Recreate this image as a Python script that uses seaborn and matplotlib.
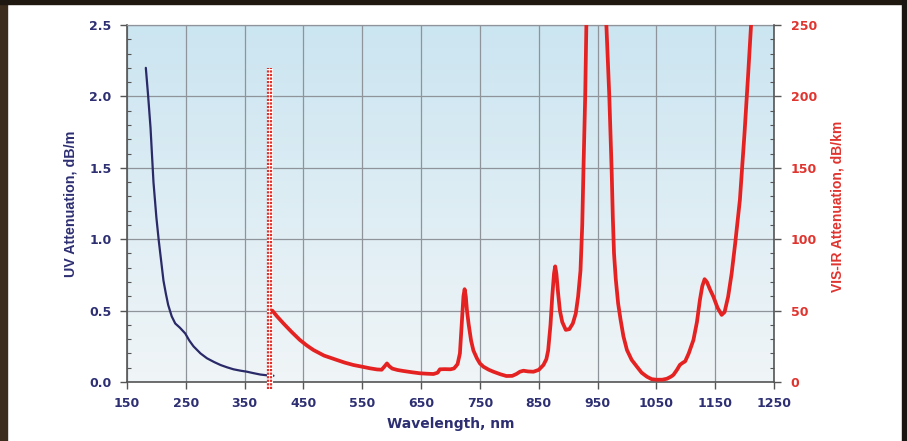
import numpy as np
import pandas as pd
import matplotlib
matplotlib.use("Agg")
import matplotlib.pyplot as plt
import seaborn as sns
from matplotlib.patches import Rectangle
from matplotlib.ticker import MultipleLocator, FormatStrFormatter

# ---------------- data ----------------
uv_nm = [182, 186, 190, 195, 200, 204, 208, 212, 216, 220, 226, 232, 240, 249,
         256, 263, 275, 286, 298, 309, 320, 331, 342, 354, 365, 377, 390, 399]
uv_att = [2.20, 2.00, 1.78, 1.40, 1.15, 0.99, 0.85, 0.71, 0.62, 0.54, 0.46, 0.41,
          0.38, 0.34, 0.29, 0.25, 0.20, 0.166, 0.14, 0.119, 0.103, 0.089, 0.080,
          0.072, 0.062, 0.052, 0.046, 0.044]

vis_nm = [397, 405, 416, 430, 444, 456, 467, 485, 507, 520, 535, 550, 563, 575,
          583, 588, 592, 596, 601, 610, 620, 635, 648, 660, 671, 678, 682, 690,
          700, 706, 712, 716, 719, 722, 724, 726, 728, 731, 735, 739, 745, 750,
          756, 765, 773, 785, 795, 805, 812, 818, 824, 832, 841, 850, 858, 863,
          866, 870, 873, 876, 878, 880, 883, 886, 890, 896, 902, 908, 913, 917,
          921, 924, 926, 929, 931, 934, 940, 948, 956, 962, 965, 970, 974, 976,
          978, 981, 985, 989, 994, 1000, 1008, 1017, 1025, 1034, 1042, 1050, 1060,
          1068, 1075, 1079, 1085, 1090, 1095, 1099, 1105, 1113, 1119, 1124, 1128,
          1132, 1136, 1141, 1147, 1154, 1161, 1166, 1172, 1178, 1184, 1192, 1200,
          1206, 1211, 1215]
vis_att = [50, 46, 41, 35, 29.4, 25.5, 22.4, 18.5, 15.4, 13.6, 11.9, 10.7, 9.6, 8.8,
           8.6, 11, 13, 11, 9.4, 8.4, 7.7, 6.8, 6.1, 5.8, 5.6, 6.5, 8.9, 9.0,
           8.9, 9.5, 12.5, 20, 40, 60, 65, 60, 50, 40, 29, 22, 16.5, 13,
           10.7, 8.6, 7.2, 5.4, 4.2, 4.3, 5.6, 7.2, 7.9, 7.4, 7.2, 8.5, 11.9, 16,
           22, 40, 60, 76, 81, 76, 62, 50, 42, 36.5, 37, 41, 48, 60,
           78, 110, 148, 200, 250, 320, 400, 430, 400, 320, 250, 200, 148, 115,
           90, 72, 55, 44, 32, 22.4, 15.5, 10.7, 6.5, 3.7, 2.0, 1.6, 1.6,
           2.3, 3.8, 5, 8.5, 12, 13.5, 14.5, 20, 29.4, 42, 57.4, 67,
           72, 70, 65, 59.7, 52, 47, 49, 59.7, 76, 97, 127.5, 175,
           215, 250, 280]

marker_nm = [389.5, 395.0]        # dotted divider columns
marker_range = [-0.05, 2.2]       # on the UV axis

x_ticks = list(range(150, 1251, 100))
uv_ticks = [0.0, 0.5, 1.0, 1.5, 2.0, 2.5]
vis_ticks = [0, 50, 100, 150, 200, 250]

uv_df = pd.DataFrame({"Wavelength": uv_nm, "UV": uv_att})
vis_df = pd.DataFrame({"Wavelength": vis_nm, "VIS": vis_att})

# ---------------- style ----------------
sns.set_theme(style="ticks")
plt.rcParams['font.family'] = ['DejaVu Sans']

NAVY = "#2d2f72"
CURVE_NAVY = "#2a2a68"
RED = "#e52222"
LABEL_RED = "#e0342f"
SPINE = "#555555"
GRID = "#8e9499"

W, H = 907, 441
fig = plt.figure(figsize=(W / 100, H / 100), dpi=100, facecolor="white")

# dark photo frame
fig.patches.append(Rectangle((0, 0), 7 / W, 1, transform=fig.transFigure,
                             color="#3d2d1c", zorder=0))
fig.patches.append(Rectangle((0, 1 - 4 / H), 1, 4 / H, transform=fig.transFigure,
                             color="#1e1810", zorder=0))
fig.patches.append(Rectangle((902 / W, 0), 5 / W, 1, transform=fig.transFigure,
                             color="#1a1510", zorder=0))

L, R, T, B = 127, 774, 25, 382
ax = fig.add_axes([L / W, 1 - B / H, (R - L) / W, (B - T) / H])

# gradient background
top_c = np.array([203, 229, 241]) / 255
bot_c = np.array([240, 245, 247]) / 255
t = np.linspace(0, 1, 256)[:, None]
grad = top_c[None, :] * (1 - t) + bot_c[None, :] * t
grad = np.repeat(grad[:, None, :], 2, axis=1)
ax.imshow(grad, extent=[0, 1, 0, 1], transform=ax.transAxes, aspect="auto",
          zorder=0, interpolation="bilinear")

ax.set_xlim(150, 1250)
ax.set_ylim(0, 2.5)
ax.set_axisbelow(True)
ax.grid(True, which="major", color=GRID, lw=0.9)

# UV curve
sns.lineplot(data=uv_df, x="Wavelength", y="UV", ax=ax, color=CURVE_NAVY,
             lw=1.6, zorder=3)

# dotted divider (two columns of dots)
for xm in marker_nm:
    ax.plot([xm, xm], marker_range, color="white", lw=2.2, zorder=3.5,
            clip_on=False, solid_capstyle="butt")
    ax.plot([xm, xm], marker_range, color="#e0302a", lw=1.6, zorder=4,
            linestyle=(0, (1.0, 0.6)), clip_on=False, dash_capstyle="butt")

ax.set_xticks(x_ticks)
ax.set_yticks(uv_ticks)
ax.yaxis.set_major_formatter(FormatStrFormatter("%.1f"))
ax.yaxis.set_minor_locator(MultipleLocator(0.1))
ax.tick_params(axis="both", which="major", direction="out", length=5, width=1,
               color=SPINE, labelsize=9, labelcolor=NAVY)
ax.tick_params(axis="x", pad=6)
ax.tick_params(axis="y", pad=6)
ax.tick_params(axis="y", which="minor", direction="in", length=3, width=0.8,
               color=SPINE)
for lab in ax.get_xticklabels() + ax.get_yticklabels():
    lab.set_fontweight("bold")

for s in ["left", "bottom"]:
    ax.spines[s].set_color(SPINE)
    ax.spines[s].set_linewidth(1.2)
ax.spines["top"].set_color(GRID)
ax.spines["top"].set_linewidth(0.9)
ax.spines["right"].set_visible(False)

ax.set_xlabel("Wavelength, nm", fontsize=10, fontweight="bold", color=NAVY)
ax.xaxis.set_label_coords(0.5, -0.098)
ax.set_ylabel("UV Attenuation, dB/m", fontsize=10.3, fontweight="bold",
              color=NAVY, family=["Liberation Sans", "DejaVu Sans"])
ax.yaxis.set_label_coords(-0.076, 0.5)

# VIS-IR axis
ax2 = ax.twinx()
sns.lineplot(data=vis_df, x="Wavelength", y="VIS", ax=ax2, color=RED,
             lw=2.7, zorder=3)
ax2.set_xlim(150, 1250)
ax2.set_ylim(0, 250)
ax2.set_yticks(vis_ticks)
ax2.yaxis.set_minor_locator(MultipleLocator(10))
ax2.tick_params(axis="y", which="major", direction="out", length=5, width=1,
                color=SPINE, labelsize=9, labelcolor=LABEL_RED, pad=7)
ax2.tick_params(axis="y", which="minor", direction="in", length=3, width=0.8,
                color=SPINE)
for lab in ax2.get_yticklabels():
    lab.set_fontweight("bold")
for s in ["left", "bottom", "top"]:
    ax2.spines[s].set_visible(False)
ax2.spines["right"].set_color(SPINE)
ax2.spines["right"].set_linewidth(1.2)
ax2.set_xlabel("")
ax2.set_ylabel("VIS-IR Attenuation, dB/km", fontsize=10, fontweight="bold",
               color=LABEL_RED, family=["Liberation Sans", "DejaVu Sans"])
ax2.yaxis.set_label_coords(1.087, 0.493)

fig.savefig("out.png", dpi=100, facecolor=fig.get_facecolor())
